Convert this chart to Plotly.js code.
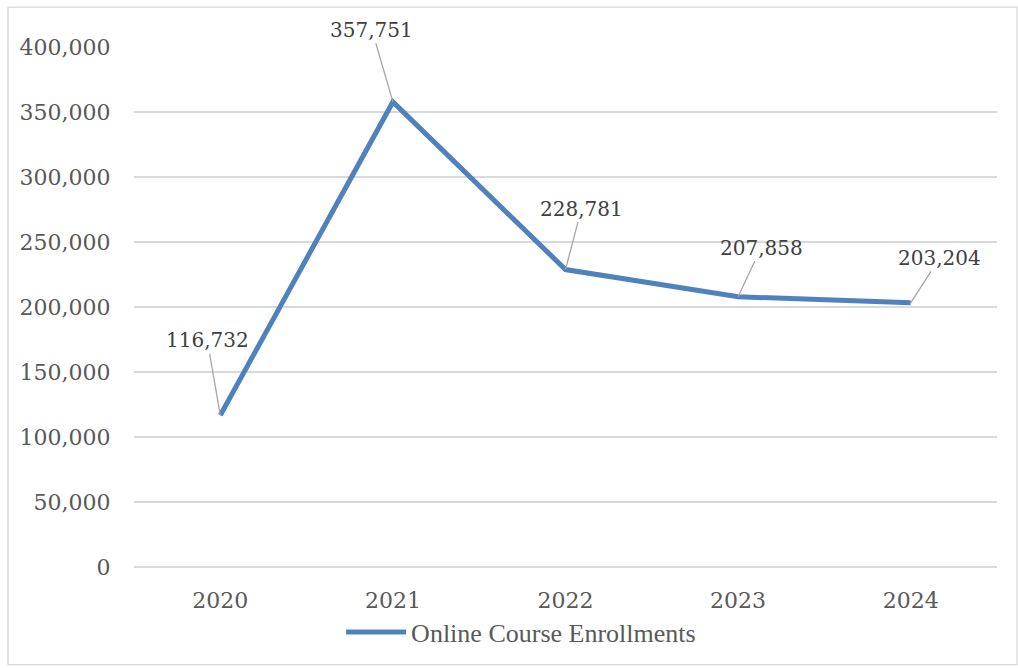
<!DOCTYPE html>
<html>
<head>
<meta charset="utf-8">
<script src="https://cdn.plot.ly/plotly-3.0.1.min.js"></script>
<style>html,body{margin:0;padding:0;background:#fff}#chart{width:1018px;height:668px}</style>
</head>
<body>
<div id="chart"></div>
<script>
const years = ["2020", "2021", "2022", "2023", "2024"];
const enrollments = [116732, 357751, 228781, 207858, 203204];
const seriesName = "Online Course Enrollments";
const yTickVals = [0, 50000, 100000, 150000, 200000, 250000, 300000, 350000, 400000];
const labelOffsets = [[-13, -75], [-21, -72], [16, -61], [23, -49], [29, -45]];

const fmt = v => v.toLocaleString("en-US");

const trace = {
  type: "scatter",
  mode: "lines",
  x: years,
  y: enrollments,
  name: seriesName,
  line: {color: "#4F81BD", width: 5},
  hoverinfo: "x+y"
};

const annotations = years.map((yr, i) => ({
  x: i, y: enrollments[i], xref: "x", yref: "y",
  text: fmt(enrollments[i]),
  showarrow: true, arrowhead: 0, arrowwidth: 1.3, arrowcolor: "#A6A6A6",
  standoff: 0,
  ax: labelOffsets[i][0], ay: labelOffsets[i][1],
  font: {family: "DejaVu Serif", size: 20, color: "#404040"}
}));

const layout = {
  width: 1018, height: 668,
  margin: {l: 134, r: 21, t: 47, b: 99},
  paper_bgcolor: "#fff", plot_bgcolor: "#fff",
  showlegend: true,
  legend: {
    orientation: "h", x: 0.24, xanchor: "left", y: -0.125, yanchor: "middle",
    itemwidth: 60,
    font: {family: "Liberation Serif", size: 26, color: "#595959"}
  },
  xaxis: {
    type: "category", range: [-0.5, 4.5],
    showgrid: false, zeroline: false, showline: false,
    ticks: "outside", ticklen: 14, tickcolor: "rgba(0,0,0,0)",
    tickfont: {family: "DejaVu Serif", size: 22, color: "#595959"}
  },
  yaxis: {
    range: [0, 400000], tickvals: yTickVals,
    ticktext: yTickVals.map(fmt),
    showgrid: true, gridcolor: "#D9D9D9", gridwidth: 1.5,
    zeroline: true, zerolinecolor: "#D9D9D9", zerolinewidth: 1.5,
    showline: false,
    ticks: "outside", ticklen: 18, tickcolor: "rgba(0,0,0,0)",
    tickfont: {family: "DejaVu Serif", size: 22, color: "#595959"}
  },
  annotations: annotations,
  shapes: [{
    type: "rect", xref: "paper", yref: "paper",
    x0: -0.146, x1: 1.0232, y0: -0.1877, y1: 1.0766,
    line: {color: "#D9D9D9", width: 1.3}, fillcolor: "rgba(0,0,0,0)", layer: "below"
  }]
};

Plotly.newPlot("chart", [trace], layout, {displayModeBar: false, staticPlot: true});
</script>
</body>
</html>
